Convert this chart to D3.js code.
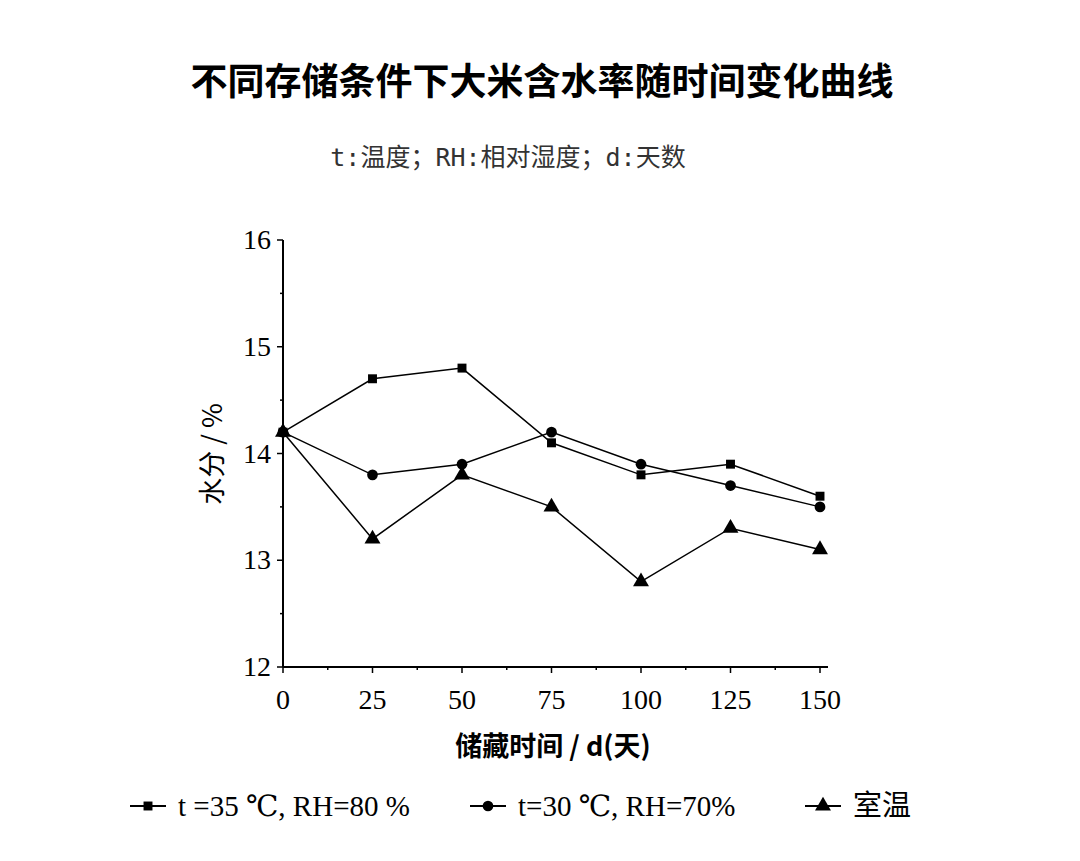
<!DOCTYPE html>
<html><head><meta charset="utf-8">
<script src="https://cdn.jsdelivr.net/npm/d3@7"></script>
<style>body{margin:0;background:#fff}</style></head>
<body><svg id="c" width="1080" height="861"></svg>
<script>
const days=[0,25,50,75,100,125,150];
const s35=[14.2,14.7,14.8,14.1,13.8,13.9,13.6];
const s30=[14.2,13.8,13.9,14.2,13.9,13.7,13.5];
const sRoom=[14.2,13.2,13.8,13.5,12.8,13.3,13.1];
const seriesNames=["t =35 ℃, RH=80 %","t=30 ℃, RH=70%","室温"];
const yTicks=[12,13,14,15,16];

const svg=d3.select("#c");
const x=d3.scaleLinear().domain([0,150]).range([283,820]);
const y=d3.scaleLinear().domain([12,16]).range([667,240]);
const serif="'Liberation Serif','DejaVu Serif',serif";
const cjk="'Noto Sans CJK SC',sans-serif";

svg.append("text").attr("x",542).attr("y",95).attr("text-anchor","middle")
 .attr("font-family",cjk).attr("font-size",37).attr("font-weight","bold").text("不同存储条件下大米含水率随时间变化曲线");
svg.append("text").attr("x",508).attr("y",166).attr("text-anchor","middle")
 .attr("font-family","'DejaVu Sans Mono','Noto Sans CJK SC',monospace").attr("font-size",25).attr("fill","#333").text("t:温度；RH:相对湿度；d:天数");

const g=svg.append("g");
g.append("line").attr("x1",x(0)).attr("x2",x(0)).attr("y1",y(16)).attr("y2",y(12)).attr("stroke","#000").attr("stroke-width",2);
g.append("line").attr("x1",x(0)).attr("x2",x(150)+8).attr("y1",y(12)).attr("y2",y(12)).attr("stroke","#000").attr("stroke-width",2);
d3.range(12,16.01,0.5).forEach(v=>{const maj=Number.isInteger(v);
 g.append("line").attr("x1",x(0)).attr("x2",x(0)-(maj?6:3)).attr("y1",y(v)).attr("y2",y(v)).attr("stroke","#000").attr("stroke-width",1.5);});
d3.range(0,150.01,12.5).forEach(v=>{const maj=v%25===0;
 g.append("line").attr("x1",x(v)).attr("x2",x(v)).attr("y1",y(12)).attr("y2",y(12)+(maj?6:3)).attr("stroke","#000").attr("stroke-width",1.5);});
yTicks.forEach(v=>g.append("text").attr("x",x(0)-12).attr("y",y(v)+9).attr("text-anchor","end")
 .attr("font-family",serif).attr("font-size",28).text(v));
days.forEach(v=>g.append("text").attr("x",x(v)).attr("y",y(12)+42).attr("text-anchor","middle")
 .attr("font-family",serif).attr("font-size",28).text(v));
g.append("text").attr("x",553).attr("y",756).attr("text-anchor","middle").attr("font-family",cjk).attr("font-size",27).attr("font-weight","bold").text("储藏时间 / d(天)");
g.append("text").attr("transform","translate(222,454) rotate(-90)").attr("text-anchor","middle").attr("font-family",cjk).attr("font-size",27).text("水分 / %");

const line=d3.line().x((d,i)=>x(days[i])).y(d=>y(d));
const data=[s35,s30,sRoom];
const shapes=[d3.symbolSquare,d3.symbolCircle,d3.symbolTriangle];
const sizes=[80,90,110];
data.forEach((s,k)=>{
 g.append("path").attr("d",line(s)).attr("fill","none").attr("stroke","#000").attr("stroke-width",1.5);
 s.forEach((v,i)=>g.append("path").attr("d",d3.symbol(shapes[k],sizes[k])()).attr("transform",`translate(${x(days[i])},${y(v)})`));
});
const lx=[130,470,805];
seriesNames.forEach((n,k)=>{
 g.append("line").attr("x1",lx[k]).attr("x2",lx[k]+36).attr("y1",806).attr("y2",806).attr("stroke","#000").attr("stroke-width",2);
 g.append("path").attr("d",d3.symbol(shapes[k],sizes[k])()).attr("transform",`translate(${lx[k]+18},806)`);
 g.append("text").attr("x",lx[k]+48).attr("y",816).attr("font-family",k==2?cjk:serif).attr("font-size",29).text(n);
});
</script></body></html>
